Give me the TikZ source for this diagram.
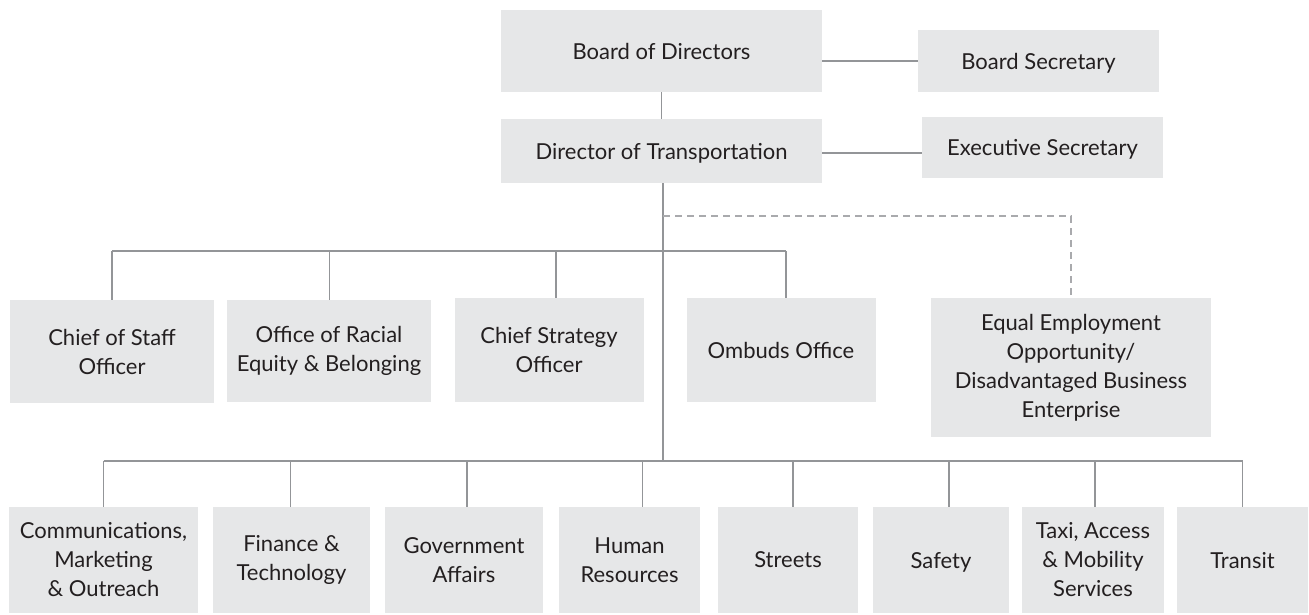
\documentclass[tikz,border=0pt]{standalone}
\usepackage{fontspec}
\setmainfont{Lato}
\usepackage{tikz}

\definecolor{boxgray}{HTML}{E6E7E8}
\definecolor{linegray}{HTML}{939598}
\definecolor{textgray}{HTML}{231F20}

\begin{document}
\begin{tikzpicture}[x=1pt, y=-1pt, every node/.style={font=\fontsize{22}{29}\selectfont, text=textgray}]

	% Define styles for the boxes and the connectors
	\tikzset{
		orgbox/.style={fill=boxgray, align=center, inner sep=0pt},
		oneline/.style={text depth=0pt},
		orgline/.style={draw=linegray, line width=1.5pt},
		dottedline/.style={draw=linegray!80, line width=1.5pt, dash pattern=on 7pt off 5pt}
	};

	\useasboundingbox (0,0) rectangle (1309,614);

	% Top level: board and director with their secretaries
	\node[orgbox, oneline, minimum width=321, minimum height=82] (bod) at (661.5,51) {Board of Directors};
	\node[orgbox, oneline, minimum width=241, minimum height=62] (bsec) at (1038.5,61) {Board Secretary};
	\node[orgbox, oneline, minimum width=321, minimum height=64] (dot) at (661.5,151) {Director of Transportation};
	\node[orgbox, oneline, minimum width=241, minimum height=61] (esec) at (1042.5,147.5) {Executive Secretary};

	\draw[orgline] (bod) -- (dot);
	\draw[orgline] (bod.east |- bsec) -- (bsec);
	\draw[orgline] (dot.east |- 0,153) -- (esec.west |- 0,153);

	% Middle row: offices reporting to the director
	\node[orgbox, minimum width=204, minimum height=103] (cos) at (112,351.5) {Chief of Staff\\Officer};
	\node[orgbox, minimum width=204, minimum height=102] (ore) at (329,351) {Office of Racial\\Equity \& Belonging};
	\node[orgbox, minimum width=189, minimum height=104] (cso) at (549,350) {Chief Strategy\\Officer};
	\node[orgbox, oneline, minimum width=189, minimum height=104] (omb) at (781,350) {Ombuds Office};
	\node[orgbox, minimum width=280, minimum height=139] (eeo) at (1071,367.5) {Equal Employment\\Opportunity/\\Disadvantaged Business\\Enterprise};

	% Bottom row: divisions
	\node[orgbox, minimum width=189, minimum height=106] (comm) at (103.5,560) {Communications,\\Marketing\\\& Outreach};
	\node[orgbox, minimum width=157, minimum height=106] (fin) at (291.5,560) {Finance \&\\Technology};
	\node[orgbox, minimum width=158, minimum height=106] (gov) at (464,560) {Government\\Affairs};
	\node[orgbox, minimum width=141, minimum height=106] (hr) at (629.5,560) {Human\\Resources};
	\node[orgbox, oneline, minimum width=140, minimum height=106] (str) at (788,560) {Streets};
	\node[orgbox, oneline, minimum width=136, minimum height=106] (saf) at (941,560) {Safety};
	\node[orgbox, minimum width=142, minimum height=106] (taxi) at (1093,560) {Taxi, Access\\\& Mobility\\Services};
	\node[orgbox, oneline, minimum width=131, minimum height=106] (tra) at (1242.5,560) {Transit};

	% Bus lines below the director
	\coordinate (upbus) at (663,251);
	\coordinate (lowbus) at (663,461);
	\coordinate (eeobus) at (663,216);

	\draw[orgline] ([xshift=1.5pt]dot.south) -- (lowbus);
	\draw[orgline] (cos.north |- upbus) -- ([xshift=5pt]omb.north |- upbus);
	\draw[orgline] (comm.north |- lowbus) -- (tra.north |- lowbus);

	% Drops to the middle row
	\foreach \n/\s in {cos/0,ore/0.5,cso/7,omb/5}
		\draw[orgline] ([xshift=\s pt]\n.north) -- ([xshift=\s pt]\n.north |- upbus);

	% Dashed line to equal employment
	\draw[dottedline] (eeobus) -| (eeo.north);

	% Drops to the bottom row
	\foreach \n/\s in {comm/0,fin/-1,gov/3,hr/13,str/5,saf/8,taxi/2,tra/0}
		\draw[orgline] ([xshift=\s pt]\n.north) -- ([xshift=\s pt]\n.north |- lowbus);

\end{tikzpicture}
\end{document}
